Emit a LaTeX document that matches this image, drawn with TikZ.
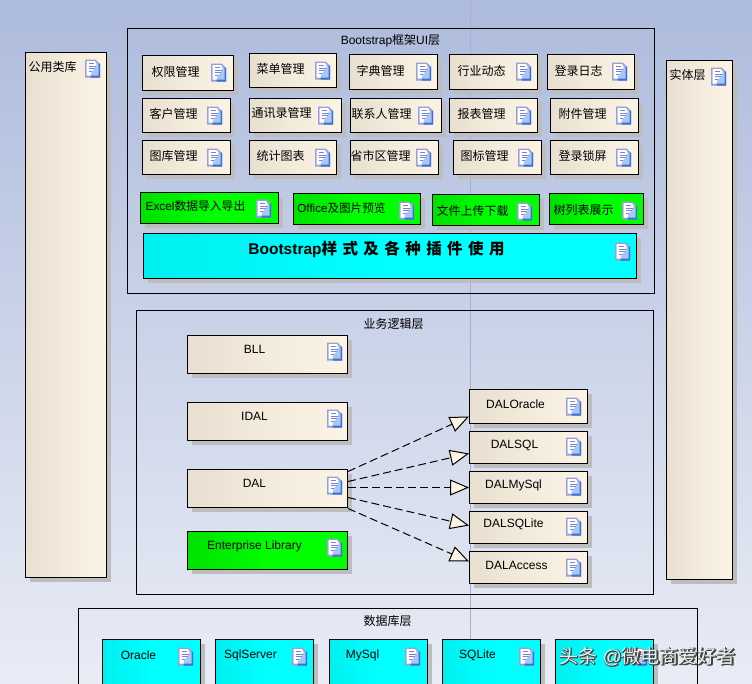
\documentclass[tikz,border=0pt]{standalone}
\usepackage{fontspec}
\setmainfont{Liberation Sans}
\newfontfamily\cjk{Noto Sans CJK SC}
\newfontfamily\cjkwide[LetterSpace=35]{Noto Sans CJK SC}
\usetikzlibrary{arrows.meta,fit,shadows}
\definecolor{bgtop}{HTML}{ADBBDC}
\definecolor{bgbot}{HTML}{E9ECF5}
\definecolor{creamL}{HTML}{E8DFD0}
\definecolor{creamR}{HTML}{FBF3E4}
\definecolor{shadowgray}{HTML}{BDBDBD}
\definecolor{iconedge}{HTML}{9A9FD8}
\definecolor{iconblue}{HTML}{3C6FD8}
\definecolor{iconlight}{HTML}{A6C8F2}
\definecolor{iconline}{HTML}{7C80D0}
\tikzset{
  modbox/.style={draw=black, line width=1pt, inner sep=0pt, rectangle,
    drop shadow={shadow xshift=4pt, shadow yshift=-4pt, fill=shadowgray, opacity=1}},
  creambox/.style={modbox, left color=creamL, right color=creamR, middle color=creamR!60!creamL},
  greenbox/.style={modbox, left color=green!88!black, right color=green, middle color=green},
  cyanbox/.style={modbox, left color=cyan!94!black, right color=cyan, middle color=cyan},
  framebox/.style={draw=black, line width=1pt, inner sep=0pt, rectangle},
  boxlabel/.style={inner sep=0pt, font=\fontsize{12}{14}\selectfont},
  depline/.style={line width=1pt, dash pattern=on 8pt off 4pt,
    -{Triangle[length=19pt, width=16pt, fill=creamR, line width=1pt]}},
  pics/docicon/.style={code={
    \fill[iconedge] (-7.5,-9) -- (3,-9) -- (7.5,-4.5) -- (7.5,9) -- (-7.5,9) -- cycle;
    \fill[iconblue] (-2,-3) -- (7.5,-5) -- (7.5,9) -- (-2,9) -- cycle;
    \fill[iconlight] (-6,-7.5) -- (2.5,-7.5) -- (6,-4) -- (6,7) -- (-6,7) -- cycle;
    \fill[white] (-6,-7.5) -- (2.5,-7.5) -- (4,-4) -- (2,0) -- (-1,3) -- (-2,7) -- (-6,7) -- cycle;
    \draw[iconline, line width=0.7pt] (-4,-5) -- (1,-5) (-4,-2.5) -- (3,-2.5) (-4,0) -- (2,0) (-4,2.5) -- (-1,2.5);
  }},
}
% name, style, corners, text position, icon position, text
\newcommand{\modnode}[7]{
  \node[#2, fit={(#3)(#4)}] (#1) {};
  \node[boxlabel] (#1-text) at (#5) {#7};
  \pic (#1-icon) at (#6) {docicon};
}
\begin{document}
\begin{tikzpicture}[x=1pt, y=-1pt, >=stealth]
  \useasboundingbox (0,0) rectangle (752,683);
  \clip (0,0) rectangle (752,683);
  \shade[top color=bgtop, bottom color=bgbot] (0,0) rectangle (752,683);
  \draw[blue!30!gray!50!white, line width=0.7pt] (470,0) -- (470,640);
  \begin{scope}[shift={(0.5,0.5)}]

  % side layers
  \modnode{common}{creambox}{25,52}{106,577}{52,66}{92,68}{\cjk 公用类库}
  \modnode{entity}{creambox}{666,60}{732,579}{687,74}{718,76}{\cjk 实体层}

  % ui layer
  \node[framebox, fit={(127,28)(654,293)}] (uilayer) {};
  \node[boxlabel] (uititle) at (390,40) {Bootstrap{\cjk 框架}UI{\cjk 层}};
  \modnode{quanxian}{creambox}{142,55}{233,90}{175,71}{218,72}{\cjk 权限管理}
  \modnode{caidan}{creambox}{249,53}{336,87}{280,68}{322,70}{\cjk 菜单管理}
  \modnode{zidian}{creambox}{349,54}{437,89}{380,70}{423,71}{\cjk 字典管理}
  \modnode{hangye}{creambox}{449,54}{537,89}{481,70}{523,71}{\cjk 行业动态}
  \modnode{denglu}{creambox}{547,54}{634,89}{578,70}{619,71}{\cjk 登录日志}
  \modnode{kehu}{creambox}{142,98}{230,132}{173,113}{214,115}{\cjk 客户管理}
  \modnode{tongxun}{creambox}{249,98}{341,132}{281,113}{325,115}{\cjk 通讯录管理}
  \modnode{lianxi}{creambox}{350,98}{441,132}{381,113}{425,115}{\cjk 联系人管理}
  \modnode{baobiao}{creambox}{449,98}{537,132}{481,113}{523,115}{\cjk 报表管理}
  \modnode{fujian}{creambox}{550,98}{638,132}{582,113}{623,115}{\cjk 附件管理}
  \modnode{tuku}{creambox}{142,140}{230,174}{173,155}{214,157}{\cjk 图库管理}
  \modnode{tongji}{creambox}{249,140}{336,174}{280,155}{322,157}{\cjk 统计图表}
  \modnode{shengshi}{creambox}{350,140}{438,174}{380,155}{423,157}{\cjk 省市区管理}
  \modnode{tubiao}{creambox}{453,140}{541,174}{484,155}{525,157}{\cjk 图标管理}
  \modnode{suoping}{creambox}{550,140}{638,174}{582,155}{623,157}{\cjk 登录锁屏}
  \modnode{excel}{greenbox}{140,192}{278,223}{195,206}{263,208}{\fontsize{11.8}{13}\selectfont Excel{\cjk 数据导入导出}}
  \modnode{office}{greenbox}{293,193}{420,224}{341,208}{406,210}{\fontsize{11.6}{13}\selectfont Office{\cjk 及图片预览}}
  \modnode{upload}{greenbox}{432,194}{539,225}{472,210}{524,211}{\cjk 文件上传下载}
  \modnode{tree}{greenbox}{549,193}{643,224}{583,209}{629,210}{\cjk 树列表展示}
  \modnode{plugin}{cyanbox}{143,233}{636,278}{376,249}{622,251}{\fontsize{15.5}{18}\selectfont\bfseries Bootstrap{\cjkwide 样式及各种插件使用}}

  % logic layer
  \node[framebox, fit={(136,310)(653,594)}] (logiclayer) {};
  \node[boxlabel] (logictitle) at (393,323) {\cjk 业务逻辑层};
  \modnode{bll}{creambox}{187,335}{347,373}{254,349}{334,351}{BLL}
  \modnode{idal}{creambox}{187,402}{347,440}{254,416}{334,418}{IDAL}
  \modnode{dal}{creambox}{187,469}{347,507}{254,483}{334,485}{DAL}
  \modnode{entlib}{greenbox}{187,531}{347,569}{254,546}{334,547}{Enterprise Library}
  \modnode{daloracle}{creambox}{469,389}{587,423}{515,404}{573,406}{DALOracle}
  \modnode{dalsql}{creambox}{469,431}{587,463}{514,445}{573,446}{DALSQL}
  \modnode{dalmysql}{creambox}{469,471}{587,503}{513,485}{573,486}{DALMySql}
  \modnode{dalsqlite}{creambox}{469,511}{587,543}{513,524}{573,526}{DALSQLite}
  \modnode{dalaccess}{creambox}{469,551}{587,583}{516,565}{573,567}{DALAccess}
  \draw[depline] ([yshift=17pt]dal.east) -- ([yshift=-10pt]daloracle.west);
  \draw[depline] ([yshift=7pt]dal.east) -- ([yshift=-6pt]dalsql.west);
  \draw[depline] ([yshift=1pt]dal.east) -- ([yshift=0pt]dalmysql.west);
  \draw[depline] ([yshift=-9pt]dal.east) -- ([yshift=2pt]dalsqlite.west);
  \draw[depline] ([yshift=-20pt]dal.east) -- ([yshift=6pt]dalaccess.west);

  % database layer
  \node[framebox, fit={(78,608)(697,700)}] (dblayer) {};
  \node[boxlabel] (dbtitle) at (387,620) {\cjk 数据库层};
  \modnode{oracle}{cyanbox}{102,639}{200,690}{138,655}{185,656}{Oracle}
  \modnode{sqlserver}{cyanbox}{215,639}{313,690}{250,655}{299,656}{SqlServer}
  \modnode{mysql}{cyanbox}{329,639}{427,690}{362,655}{412,656}{MySql}
  \modnode{sqlite}{cyanbox}{442,639}{540,690}{477,655}{526,656}{SQLite}
  \modnode{blankdb}{cyanbox}{555,639}{653,690}{590,655}{639,656}{}

  % watermark
  \foreach \dx/\dy [count=\i] in {1/1,0/1,1/0,1.4/1.4}
    \node[inner sep=0pt, text=black!75, font=\fontsize{19}{22}\selectfont] (markshadow\i) at (647+\dx,656+\dy) {{\cjk 头条} @{\cjk 微电商爱好者}};
  \node[inner sep=0pt, text=white, opacity=0.9, font=\fontsize{19}{22}\selectfont] (mark) at (647,656) {{\cjk 头条} @{\cjk 微电商爱好者}};
  \end{scope}
\end{tikzpicture}
\end{document}
